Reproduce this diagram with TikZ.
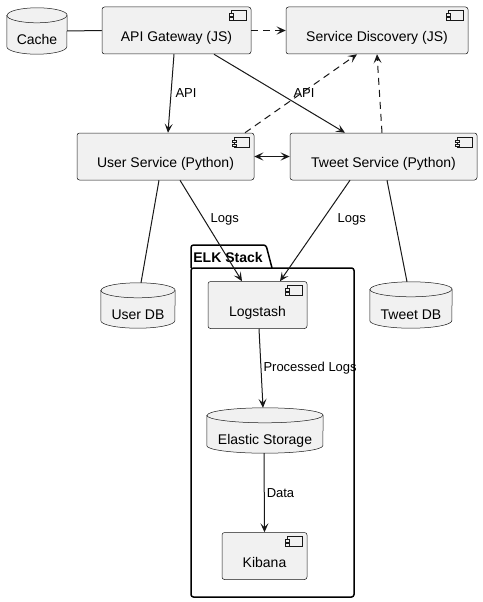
\documentclass[tikz,border=0pt]{standalone}
\usepackage{fontspec}
\setmainfont{Liberation Sans}
\usetikzlibrary{arrows.meta}
\usetikzlibrary{backgrounds}
\definecolor{boxfill}{HTML}{F1F1F1}
\definecolor{edge}{HTML}{181818}
\tikzset{comp/.style = {draw=edge, fill=boxfill, line width=0.5pt, rounded corners=2.5pt,
                        font=\fontsize{14}{16}\selectfont, text height=25pt, text depth=3pt,
                        inner sep=0pt},
         db/.style = {inner sep=0pt, font=\fontsize{14}{16}\selectfont,
                      text height=31pt, text depth=3pt},
         link/.style = {draw=edge, line width=1pt},
         flow/.style = {link, -{Stealth[length=9pt, width=8pt, inset=4pt]}},
         both/.style = {link, {Stealth[length=9pt, width=8pt, inset=4pt]}-{Stealth[length=9pt, width=8pt, inset=4pt]}},
         dep/.style = {flow, dash pattern=on 7pt off 5pt},
         lbl/.style = {font=\fontsize{13}{15}\selectfont, inner sep=1pt, anchor=west},
         pkg/.style = {draw=black, line width=1.5pt, rounded corners=2.5pt}}
% component icon in the top right corner
\newcommand\compicon[1]{
  \draw[draw=edge, line width=0.5pt, fill=boxfill] ([xshift=-20, yshift=-4]#1.north east) rectangle ([xshift=-5, yshift=-14]#1.north east);
  \draw[draw=edge, line width=0.5pt, fill=boxfill] ([xshift=-22, yshift=-7]#1.north east) rectangle ([xshift=-18, yshift=-9.5]#1.north east);
  \draw[draw=edge, line width=0.5pt, fill=boxfill] ([xshift=-22, yshift=-11]#1.north east) rectangle ([xshift=-18, yshift=-13.5]#1.north east);
}
% database drum behind a node
\newcommand\dbdraw[2]{
  \filldraw[draw=edge, line width=0.5pt, fill=boxfill] ([yshift=-7.5]#1.north west) -- ([yshift=7.5]#1.south west)
    arc[start angle=180, end angle=360, x radius=#2, y radius=7.5] -- ([yshift=-7.5]#1.north east)
    arc[start angle=0, end angle=180, x radius=#2, y radius=7.5] -- cycle;
  \draw[draw=edge, line width=0.5pt] ([yshift=-7.5]#1.north west) arc[start angle=180, end angle=360, x radius=#2, y radius=7.5];
}

\begin{document}
\begin{tikzpicture}[x=1pt, y=1pt]
  \useasboundingbox (0, 0) rectangle (482, -602);

  % package
  \draw[pkg] (191, -268) -- (191, -245) -- (266, -245) -- (272, -268);
  \draw[pkg] (191, -268) rectangle (354, -597);
  \node[font=\bfseries\fontsize{14}{16}\selectfont, inner sep=0pt] (elktitle) at (228, -257) {ELK Stack};

  % components
  \node[comp, minimum width=149, minimum height=47] (gw) at (176.5, -30.5) {API Gateway (JS)};
  \node[comp, minimum width=182, minimum height=47] (sd) at (377, -30.5) {Service Discovery (JS)};
  \node[comp, minimum width=177, minimum height=47] (usr) at (165.5, -156.5) {User Service (Python)};
  \node[comp, minimum width=187, minimum height=47] (tws) at (383.5, -156.5) {Tweet Service (Python)};
  \node[comp, minimum width=99, minimum height=47] (logstash) at (257.5, -305) {Logstash};
  \node[comp, minimum width=85, minimum height=47] (kibana) at (264.5, -556) {Kibana};
  \foreach \c in {gw, sd, usr, tws, logstash, kibana}
    \compicon{\c};

  % databases
  \node[db, minimum width=60, minimum height=46] (cache) at (37, -31) {Cache};
  \node[db, minimum width=74, minimum height=45] (userdb) at (138, -305.5) {User DB};
  \node[db, minimum width=82, minimum height=46] (tweetdb) at (411, -305) {Tweet DB};
  \node[db, minimum width=116, minimum height=45] (elastic) at (265, -430.5) {Elastic Storage};
  \begin{scope}[on background layer]
    \fill[white] (0, 0) rectangle (482, -602);
    \dbdraw{cache}{30}
    \dbdraw{userdb}{37}
    \dbdraw{tweetdb}{41}
    \dbdraw{elastic}{58}
  \end{scope}

  % connectors
  \draw[link] (cache.east) -- (gw.west);
  \draw[dep] (gw.east) -- (sd.west);
  \draw[flow] ([xshift=-2.5]gw.south) -- ([xshift=2.5]usr.north)
    node[lbl, pos=0.5, xshift=3] {API};
  \draw[flow] ([xshift=37.5]gw.south) -- ([xshift=-38.5]tws.north)
    node[lbl, pos=0.5, xshift=12.5] {API};
  \draw[dep] ([xshift=79.5]usr.north) -- ([xshift=-20]sd.south);
  \draw[dep] ([xshift=-1.5]tws.north) -- (sd.south);
  \draw[both] (usr.east) -- (tws.west);
  \draw[link] ([xshift=-6.5]usr.south) -- ([xshift=3]userdb.north);
  \draw[flow] ([xshift=14.5]usr.south) -- ([xshift=-15.5]logstash.north)
    node[lbl, pos=0.39, xshift=5] {Logs};
  \draw[flow] ([xshift=-33.5]tws.south) -- ([xshift=22.5]logstash.north)
    node[lbl, pos=0.39, xshift=13.5] {Logs};
  \draw[link] ([xshift=3.5]tws.south) -- ([xshift=-4]tweetdb.north);
  \draw[flow] ([xshift=1.5]logstash.south) -- ([xshift=-2]elastic.north)
    node[lbl, pos=0.5, xshift=1] {Processed Logs};
  \draw[flow] ([xshift=-1]elastic.south) -- (kibana.north)
    node[lbl, pos=0.5, xshift=1] {Data};
\end{tikzpicture}
\end{document}
